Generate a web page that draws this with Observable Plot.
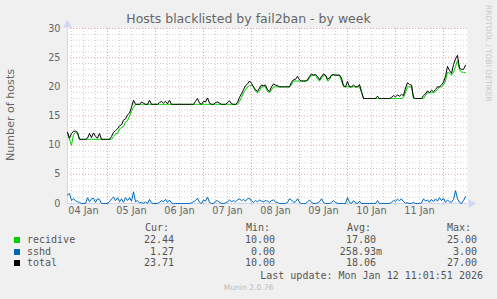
<!DOCTYPE html>
<html><head><meta charset="utf-8">
<script src="https://cdn.jsdelivr.net/npm/d3@7"></script>
<script src="https://cdn.jsdelivr.net/npm/@observablehq/plot@0.6"></script>
<style>
html,body{margin:0;padding:0;background:#f0f0f0;}
#wrap{position:relative;width:497px;height:299px;background:#f0f0f0;font-family:"DejaVu Sans",sans-serif;color:#666;overflow:hidden;}
#chart{position:absolute;left:0;top:0;}
.t{position:absolute;white-space:pre;line-height:12px;}
.mono{font-family:"DejaVu Sans Mono",monospace;font-size:10px;color:#555;}
</style></head><body><div id="wrap"><div id="chart"></div></div>
<script>
// ---- data (hourly samples, first sample 2026-01-04 04:00) ----
const startTime = Date.UTC(2026, 0, 4, 4, 0);
const seriesNames = ["recidive", "sshd", "total"];
const seriesColors = ["#00cc00", "#0066b3", "#000000"];
const recidive = [
  12, 11, 10, 11.8, 12.2, 12, 11, 11, 11, 11, 11, 11, 11, 11, 11, 11, 11, 11, 11, 11,
  11, 11, 11, 11.5, 12, 12, 12.8, 13, 13.2, 14, 14.2, 15, 15.8, 16.5, 17, 17, 17, 17, 17, 17,
  17, 17, 17, 17, 17, 17, 17, 17, 17, 17, 17, 17, 17, 17, 17, 17, 17, 17, 17, 17,
  17, 17, 17, 17, 17, 17, 17, 17, 17, 17, 17, 17, 17, 17, 17, 17, 17, 17, 17, 17,
  17, 17, 17, 17, 17, 17, 17.5, 18.2, 19, 19.5, 20, 20.2, 20.3, 20, 19.2, 19, 19.3, 20, 20, 20,
  19.2, 19, 19.5, 20, 20, 20, 20, 20, 20, 20, 20, 20, 20.3, 21, 21, 21, 21, 21, 21, 21,
  21, 21.5, 22, 22, 22, 21.3, 21, 21.5, 22, 22, 21, 21.2, 22, 22, 22, 22, 22, 21, 20, 20,
  20, 20, 20, 20, 20, 20, 20, 19, 18, 18, 18, 18, 18, 18, 18, 18, 18, 18, 18, 18,
  18, 18, 18, 18, 18, 18, 18, 18, 18.2, 19, 20, 20, 20, 18, 18, 18, 18, 18, 18, 18.5,
  19, 19, 19, 19, 19.2, 19.5, 20, 20, 20.3, 21, 22.5, 22.3, 22, 22.5, 23.5, 24.5, 23, 22.5, 22.5, 22.4
];
const sshd = [
  1.5, 1.7, 0.5, 0.8, 0.5, 0.3, 0.2, 0, 0, 0, 1.0, 0.3, 0.8, 0.9, 0.2, 0.8, 0.7, 0, 0, 0,
  0, 0.3, 0.8, 1.1, 0.5, 1.0, 0.3, 0.8, 0.2, 1.0, 0.5, 1.0, 0.4, 2.0, 0.3, 0.5, 0.1, 0.2, 0, 0.3,
  0, 0.7, 0.1, 0, 0, 0, 0.2, 0.5, 0.3, 0.7, 0.2, 0.6, 0.1, 0, 0, 0, 0, 0, 0, 0,
  0, 0, 0.1, 0.3, 0.5, 0.9, 0.2, 0, 0.6, 0.4, 1.1, 0.2, 0, 0, 0.4, 0.5, 0.2, 0, 0, 0.1,
  0.3, 0.6, 0.3, 0.5, 0.3, 0.6, 0.8, 0.5, 0.7, 0.4, 0.8, 0.9, 0.4, 0.2, 0.5, 0.3, 0.6, 0.4, 0.3, 0.5,
  0.4, 0.2, 0.5, 0.6, 0.3, 0.2, 0, 0, 0, 0, 0.2, 0.8, 0.6, 0.2, 0.3, 0.8, 0.2, 0, 0, 0,
  0.3, 0.6, 0.2, 0, 0, 0.1, 0.3, 0.8, 0.2, 0, 0, 0, 0.2, 0.5, 0.2, 0, 0, 0, 0, 0,
  1.0, 0.2, 0, 0.5, 0.1, 0, 0.4, 0, 0, 0, 0, 0, 0, 0, 0, 0.5, 0, 0, 0, 0,
  0, 0, 0.2, 0.5, 0.4, 0.7, 0.5, 0.8, 0.3, 0.1, 0.1, 0, 0, 0.2, 0, 0, 0, 0.1, 0.8, 0.4,
  0.6, 0.2, 0.7, 0.3, 0.8, 0.4, 1.0, 0.5, 0.9, 0.2, 0.6, 0.3, 0.2, 0.7, 2.2, 0.8, 0.2, 0, 0.5, 1.2
];
const total = [
  12.2, 11.2, 12.0, 12.4, 12.4, 12.2, 11, 11, 11, 11, 11.2, 12, 11.3, 12.1, 11.5, 11.2, 12, 11, 11, 11,
  11, 11, 11.5, 12.2, 12.5, 12.8, 13.3, 13.5, 14.3, 14.5, 15.2, 15.5, 16.5, 17.7, 17, 17, 17, 17.4, 17.2, 17,
  17, 17.7, 17, 17, 17, 17, 17.3, 17.5, 17.2, 17.5, 17.1, 17.7, 17, 17, 17, 17, 17, 17, 17, 17,
  17, 17, 17, 17, 17.5, 18, 17.2, 17, 17.5, 17.4, 18.1, 17.2, 17, 17, 17.3, 17.4, 17.2, 17, 17, 17,
  17.3, 17.6, 17.1, 17, 17, 17.3, 18.2, 18.8, 19.5, 20.2, 20.5, 21, 20.6, 20, 19.5, 19.2, 19.8, 20.3, 20.2, 20.3,
  19.5, 19.2, 20, 20.5, 20.3, 20.2, 20, 20, 20, 20, 20, 20, 20.8, 21.2, 21.3, 21.8, 21.2, 21, 21, 21,
  21.2, 21.8, 22.2, 22, 22.1, 21.8, 21.2, 21.8, 22.2, 22, 21.3, 21.5, 22, 22.1, 22, 22, 22, 21.5, 20.2, 20,
  20.9, 20, 20, 20.3, 20, 20, 20.4, 19.2, 18, 18, 18, 18, 18, 18, 18, 18.4, 18, 18, 18, 18,
  18, 18, 18.2, 18.5, 18.3, 18.6, 18.4, 18.7, 18.5, 19.8, 20.7, 20.4, 20.3, 18.2, 18, 18, 18, 18, 18.5, 18.8,
  19.3, 19, 19.4, 19.2, 19.5, 20, 20, 20.3, 20.8, 21.8, 23.5, 22.8, 22.3, 23.8, 24.8, 25.4, 23.2, 23, 23, 23.7
];
const dayLabels = ["04 Jan", "05 Jan", "06 Jan", "07 Jan", "08 Jan", "09 Jan", "10 Jan", "11 Jan"];
const yTicks = [0, 5, 10, 15, 20, 25, 30];
const curVals = ["22.44", "1.27", "23.71"];
const minVals = ["10.00", "0.00", "10.00"];
const avgVals = ["17.80 ", "258.93m", "18.06 "];
const maxVals = ["25.00", "3.00", "27.00"];
const lastUpdate = "Last update: Mon Jan 12 11:01:51 2026";

// ---- build ----
const HOUR = 3600e3;
const seriesValues = [recidive, sshd, total];
const rows = seriesNames.flatMap((name, k) =>
  seriesValues[k].map((v, i) => ({t: new Date(startTime + i * HOUR), v, name})));
const x0 = new Date(startTime), x1 = new Date(startTime + 200 * HOUR);
const dayStarts = d3.utcDay.range(new Date(startTime + 1), x1);
const sixHours = d3.utcHour.every(6).range(x0, x1).filter(d => d.getUTCHours() !== 0);
const firstDay = Date.UTC(2026, 0, 4);
const noonTicks = dayLabels.map((_, i) => new Date(firstDay + (i * 24 + 12) * HOUR));
const labelMap = new Map(noonTicks.map((d, i) => [+d, dayLabels[i]]));
const minorY = d3.range(0, 31).filter(v => v % 5 !== 0);
const majorY = yTicks.filter(v => v > 0);
const AX = "#CFD6F8", MINOR = "#d2d2d2", MAJOR = "#f0a0a0";

const chart = Plot.plot({
  width: 497, height: 218,
  marginTop: 28, marginLeft: 67, marginRight: 30, marginBottom: 15,
  style: {background: "transparent", fontFamily: "DejaVu Sans", color: "#666", overflow: "visible"},
  x: {type: "utc", domain: [x0, x1], axis: null},
  y: {domain: [0, 30], axis: null},
  color: {domain: seriesNames, range: seriesColors},
  marks: [
    Plot.frame({fill: "white", stroke: null}),
    Plot.ruleX(sixHours, {stroke: MINOR, strokeDasharray: "1,2"}),
    Plot.ruleY(minorY, {stroke: MINOR, strokeDasharray: "1,2"}),
    Plot.ruleX(dayStarts, {stroke: MAJOR, strokeDasharray: "1,2"}),
    Plot.ruleY(majorY, {stroke: MAJOR, strokeDasharray: "1,2"}),
    Plot.axisX(dayStarts, {tickSize: 2, stroke: MAJOR, tickFormat: () => "", label: null}),
    Plot.axisX(noonTicks, {tickSize: 0, tickPadding: 4, tickFormat: d => labelMap.get(+d), fontSize: 9.7, fill: "#666", label: null}),
    Plot.axisY(yTicks, {tickSize: 0, tickPadding: 7, fontSize: 9.7, fill: "#666", label: null}),
    Plot.ruleY([0], {stroke: AX}),
    Plot.ruleX([x0], {stroke: AX}),
    Plot.dot([{t: x0, v: 30}], {x: "t", y: "v", symbol: "triangle", r: 3.2, fill: AX, stroke: null, dy: -3.5}),
    Plot.dot([{t: x1, v: 0}], {x: "t", y: "v", symbol: "triangle", r: 3.2, fill: AX, stroke: null, dx: 3.5, rotate: 90}),
    Plot.line(rows, {x: "t", y: "v", z: "name", stroke: "name", strokeWidth: 1})
  ]
});
document.getElementById("chart").appendChild(chart);

// ---- texts ----
const wrap = document.getElementById("wrap");
function put(text, css, cls = "t") {
  const el = document.createElement("div");
  el.className = cls;
  el.textContent = text;
  el.style.cssText = css;
  wrap.appendChild(el);
  return el;
}
put("Hosts blacklisted by fail2ban - by week",
  "left:0;width:497px;text-align:center;top:12px;font-size:12.5px;line-height:14px;color:#666;");
put("Number of hosts",
  "left:-49px;width:120px;text-align:center;top:109px;font-size:11.1px;color:#666;transform:rotate(-90deg);transform-origin:60px 6px;");
put("RRDTOOL / TOBI OETIKER",
  "left:484px;top:5px;font-size:7.5px;line-height:8px;color:#c8c8c8;writing-mode:vertical-rl;");
put("Munin 2.0.76",
  "left:0;width:497px;text-align:center;top:282px;font-size:7.6px;color:#bbb;");

const headerTop = 222, rowTops = [233.5, 245.5, 257], updTop = 269.5;
const colStarts = [145, 246, 347, 447];
const colRights = [180, 281, 382, 483];
["Cur:", "Min:", "Avg:", "Max:"].forEach((h, j) =>
  put(h, `left:${colStarts[j]}px;top:${headerTop}px;`, "t mono"));
seriesNames.forEach((name, i) => {
  const sw = document.createElement("div");
  sw.style.cssText = `position:absolute;left:14px;top:${rowTops[i] + 3}px;width:6px;height:6px;background:${seriesColors[i]};`;
  wrap.appendChild(sw);
  put(name, `left:27px;top:${rowTops[i]}px;`, "t mono");
  [curVals, minVals, avgVals, maxVals].forEach((col, j) => {
    const s = col[i].endsWith(" ") || col[i].endsWith("m") ? col[i] : col[i] + " ";
    put(s, `right:${497 - colRights[j]}px;top:${rowTops[i]}px;`, "t mono");
  });
});
put(lastUpdate, `right:${497 - 483}px;top:${updTop}px;`, "t mono");
</script></body></html>
